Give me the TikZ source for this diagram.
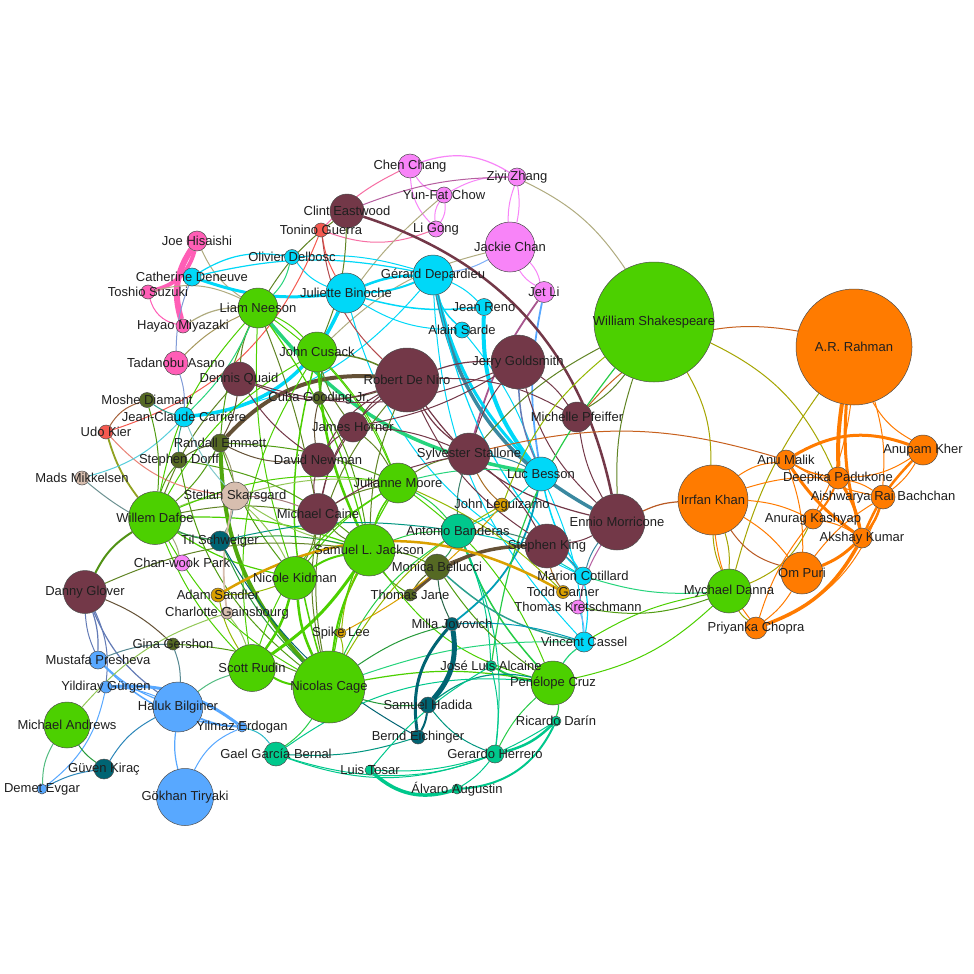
\documentclass[tikz,border=0pt]{standalone}
\usepackage{fontspec}
\setmainfont{Liberation Sans}
\usetikzlibrary{backgrounds}
\definecolor{cG}{RGB}{76,208,0}
\definecolor{cM}{RGB}{115,56,72}
\definecolor{cC}{RGB}{0,216,248}
\definecolor{cO}{RGB}{255,123,0}
\definecolor{cP}{RGB}{255,94,182}
\definecolor{cV}{RGB}{248,132,248}
\definecolor{cR}{RGB}{245,90,80}
\definecolor{cD}{RGB}{85,105,35}
\definecolor{cT}{RGB}{0,100,115}
\definecolor{cS}{RGB}{0,200,140}
\definecolor{cB}{RGB}{88,168,255}
\definecolor{cY}{RGB}{218,160,0}
\definecolor{cN}{RGB}{215,190,175}
\definecolor{ck}{RGB}{176,172,128}
\tikzset{
  nd/.style={circle,draw=black!70,line width=0.5pt,inner sep=0pt},
  lbl/.style={font=\fontsize{13}{15}\selectfont,text=black!88,inner sep=0pt},
}
\newcommand\vx[5]{\node[nd,fill=#4,minimum size=#3pt] (#1) at (#2) {};}
\newcommand\lab[2]{\node[lbl] (#1-t) at (#1) {#2};}
\newcommand\ed[5]{\draw[line width=#3pt,#4] (#1) to[bend left=#5] (#2);}
\begin{document}
\begin{tikzpicture}[x=1pt,y=-1pt]
\useasboundingbox (0,0) rectangle (974,974);
% nodes
\vx{cc}{410,166}{24}{cV}{}
\vx{zz}{517,177}{18}{cV}{}
\vx{yfc}{444,195}{16}{cV}{}
\vx{ce}{347,211}{34}{cM}{}
\vx{tgu}{321,230}{14}{cR}{}
\vx{lg}{436,229}{16}{cV}{}
\vx{jh}{197,241}{20}{cP}{}
\vx{jc}{510,247}{50}{cV}{}
\vx{od}{292,257}{15}{cC}{}
\vx{cd}{192,277}{18}{cC}{}
\vx{gd}{433,275}{40}{cC}{}
\vx{ts}{148,292}{14}{cP}{}
\vx{jb}{346,293}{40}{cC}{}
\vx{jl}{544,292}{21}{cV}{}
\vx{ln}{258,308}{40}{cG}{}
\vx{jr}{484,307}{17}{cC}{}
\vx{ws}{654,322}{120}{cG}{}
\vx{ar}{854,347}{116}{cO}{}
\vx{hm}{183,326}{14}{cP}{}
\vx{asa}{462,330}{16}{cC}{}
\vx{jcu}{317,352}{40}{cG}{}
\vx{ta}{176,363}{24}{cP}{}
\vx{jg}{518,362}{54}{cM}{}
\vx{rdn}{407,380}{64}{cM}{}
\vx{dq}{239,379}{34}{cM}{}
\vx{cg}{319,398}{13}{cD}{}
\vx{msd}{147,400}{15}{cD}{}
\vx{mp}{577,417}{30}{cM}{}
\vx{jcc}{184,417}{20}{cC}{}
\vx{jho}{353,427}{30}{cM}{}
\vx{udo}{106,432}{14}{cR}{}
\vx{re}{220,443}{18}{cD}{}
\vx{akh}{923,450}{30}{cO}{}
\vx{am}{786,460}{20}{cO}{}
\vx{dn}{318,460}{34}{cM}{}
\vx{ss}{469,454}{42}{cM}{}
\vx{sd}{179,460}{16}{cD}{}
\vx{dp}{838,478}{22}{cO}{}
\vx{lb}{541,474}{34}{cC}{}
\vx{mm}{82,478}{14}{cN}{}
\vx{jm}{398,483}{40}{cG}{}
\vx{ssk}{235,496}{28}{cN}{}
\vx{ik}{713,500}{70}{cO}{}
\vx{arb}{883,497}{24}{cO}{}
\vx{jlg}{502,505}{14}{cY}{}
\vx{wd}{155,518}{53}{cG}{}
\vx{mc}{318,514}{41}{cM}{}
\vx{em}{617,522}{56}{cM}{}
\vx{ab}{458,531}{34}{cS}{}
\vx{ak}{813,519}{20}{cO}{}
\vx{akk}{862,538}{20}{cO}{}
\vx{slj}{369,550}{52}{cG}{}
\vx{tsw}{220,541}{20}{cT}{}
\vx{sk}{547,546}{44}{cM}{}
\vx{mb}{437,567}{26}{cD}{}
\vx{cwp}{182,563}{16}{cV}{}
\vx{nk}{295,578}{43}{cG}{}
\vx{mco}{583,576}{18}{cC}{}
\vx{op}{802,573}{42}{cO}{}
\vx{dg}{85,592}{43}{cM}{}
\vx{md}{729,591}{44}{cG}{}
\vx{tg}{563,592}{13}{cY}{}
\vx{tj}{410,595}{12}{cD}{}
\vx{as}{218,595}{14}{cY}{}
\vx{tk}{578,607}{14}{cV}{}
\vx{cgb}{227,613}{12}{cN}{}
\vx{pch}{756,628}{22}{cO}{}
\vx{mj}{452,624}{13}{cT}{}
\vx{sl}{341,633}{10}{cY}{}
\vx{gg}{173,644}{12}{cD}{}
\vx{vc}{584,642}{20}{cC}{}
\vx{mps}{98,660}{18}{cB}{}
\vx{sr}{252,668}{47}{cG}{}
\vx{jla}{491,666}{11}{cS}{}
\vx{pc}{553,683}{44}{cG}{}
\vx{nc}{329,687}{72}{cG}{}
\vx{yg}{106,687}{12}{cB}{}
\vx{hb}{178,707}{50}{cB}{}
\vx{sh}{428,705}{16}{cT}{}
\vx{ma}{67,725}{46}{cG}{}
\vx{ye}{242,727}{10}{cB}{}
\vx{rd}{556,721}{10}{cS}{}
\vx{be}{418,737}{14}{cT}{}
\vx{gcb}{276,754}{24}{cS}{}
\vx{gh}{495,754}{18}{cS}{}
\vx{gk}{104,769}{20}{cT}{}
\vx{lt}{370,770}{10}{cS}{}
\vx{aa}{457,789}{10}{cS}{}
\vx{de}{42,789}{10}{cB}{}
\vx{gt}{185,797}{57}{cB}{}
% edges
\begin{pgfonlayer}{background}
\fill[white] (0,0) rectangle (974,974);
\ed{cc}{zz}{1.2}{cV}{25}
\ed{cc}{yfc}{1}{cV}{-20}
\ed{cc}{lg}{1}{cV}{-20}
\ed{yfc}{lg}{1}{cV}{20}
\ed{yfc}{lg}{1}{cV}{-20}
\ed{zz}{yfc}{1}{cV}{-15}
\ed{zz}{jc}{1}{cV}{10}
\ed{zz}{jc}{1}{cV}{-10}
\ed{jc}{jl}{1}{cV}{15}
\ed{jc}{jl}{1}{cV}{-15}
\ed{zz}{ce}{1}{cV!50!cM}{-10}
\ed{zz}{ws}{1}{ck}{15}
\ed{cc}{tgu}{1}{cV!50!cR}{-10}
\ed{lg}{tgu}{1}{cV!50!cR}{20}
\ed{yfc}{jcu}{1}{ck}{-10}
\ed{jc}{jcu}{1}{ck}{-15}
\ed{jc}{gd}{1}{cV!50!cC}{10}
\ed{jl}{ss}{1.8}{cV!40!cM}{-10}
\ed{jl}{lb}{1.8}{cB}{-10}
\ed{jh}{hm}{6}{cP}{-25}
\ed{jh}{ts}{4}{cP}{30}
\ed{ts}{hm}{1}{cP}{-30}
\ed{jh}{ln}{1}{ck}{-15}
\ed{ts}{ln}{1}{ck}{20}
\ed{hm}{ln}{1.2}{ck}{15}
\ed{cd}{ta}{1}{cC!50!cP}{-10}
\ed{cd}{jb}{3}{cC}{-12}
\ed{cd}{od}{1.2}{cC}{20}
\ed{cd}{gd}{1.2}{cC}{12}
\ed{od}{jb}{1}{cC}{-15}
\ed{od}{gd}{1}{cC}{10}
\ed{od}{ln}{1}{cG!50!cC}{15}
\ed{jcc}{jb}{3.5}{cC}{-30}
\ed{jcc}{gd}{1}{cC}{-20}
\ed{jb}{gd}{2.5}{cC}{10}
\ed{jb}{gd}{2}{cC}{-10}
\ed{jb}{asa}{1}{cC}{-15}
\ed{jb}{jr}{1.5}{cC}{-10}
\ed{gd}{jr}{1}{cC}{10}
\ed{gd}{asa}{1.5}{cC}{-15}
\ed{gd}{lb}{3}{cC}{-15}
\ed{jr}{lb}{4}{cC}{-20}
\ed{gd}{em}{3.5}{cC!50!cM}{-25}
\ed{gd}{vc}{1}{cC}{-20}
\ed{gd}{mco}{1.2}{cC}{-15}
\ed{jb}{mco}{1}{cC}{-25}
\ed{lb}{mco}{1.5}{cC}{-10}
\ed{lb}{vc}{1}{cC}{10}
\ed{mco}{vc}{1.2}{cC}{10}
\ed{tk}{vc}{1}{cV!50!cC}{10}
\ed{lb}{mj}{1.8}{cC!50!cT}{20}
\ed{asa}{lb}{1}{cC}{10}
\ed{ce}{ln}{1}{cM!50!cG}{-10}
\ed{ce}{em}{2.5}{cM}{30}
\ed{ce}{jcu}{1}{cM!50!cG}{10}
\ed{tgu}{jb}{1}{cR}{-10}
\ed{tgu}{rdn}{1}{cR!50!cM}{-20}
\ed{tgu}{udo}{1}{cR}{25}
\ed{ln}{lb}{3.5}{cG!50!cC}{-20}
\ed{rdn}{re}{4}{cM!50!cD}{-25}
\ed{re}{nc}{4}{cD!40!cG}{-20}
\ed{ln}{jcu}{1}{cG}{10}
\ed{ln}{dq}{1}{cG!50!cM}{-10}
\ed{ln}{nk}{1}{cG}{-10}
\ed{ln}{wd}{1}{cG}{-15}
\ed{ln}{slj}{1.2}{cG}{10}
\ed{ln}{re}{1}{cG!50!cD}{-10}
\ed{ln}{jm}{1}{cG}{15}
\ed{ln}{mc}{1}{cG!50!cM}{5}
\ed{jcu}{rdn}{1.5}{cG!50!cM}{10}
\ed{jcu}{slj}{2.5}{cG}{-10}
\ed{jcu}{nc}{1.5}{cG}{-15}
\ed{jcu}{jm}{1}{cG}{10}
\ed{jcu}{cg}{1}{cG!50!cD}{10}
\ed{jcu}{jho}{1}{cG!50!cM}{-10}
\ed{jcu}{sr}{1}{cG}{-20}
\ed{jcu}{wd}{1}{cG}{-15}
\ed{rdn}{jg}{1.2}{cM}{10}
\ed{rdn}{ss}{1.2}{cM}{-10}
\ed{rdn}{mp}{1}{cM}{15}
\ed{rdn}{jho}{1}{cM}{-10}
\ed{rdn}{dn}{1}{cM}{-15}
\ed{rdn}{mc}{1}{cM}{-20}
\ed{rdn}{dq}{1.2}{cM}{20}
\ed{rdn}{em}{1.2}{cM}{-20}
\ed{rdn}{cg}{1}{cM!50!cD}{10}
\ed{rdn}{slj}{1}{cG!50!cM}{-10}
\ed{rdn}{nc}{1}{cG!50!cM}{-25}
\ed{rdn}{sk}{1}{cM}{-15}
\ed{jg}{mp}{1}{cM}{10}
\ed{jg}{ss}{1}{cM}{-10}
\ed{jg}{dq}{1}{cM}{20}
\ed{jg}{lb}{1.5}{cM!40!cB}{-10}
\ed{jg}{jho}{1}{cM}{10}
\ed{jg}{em}{1}{cM}{-15}
\ed{mp}{ws}{1}{cM!50!cG}{-10}
\ed{mp}{em}{1}{cM}{-10}
\ed{mp}{ar}{1}{cM!40!cO}{30}
\ed{ss}{am}{1}{cM!40!cO}{15}
\ed{ws}{ik}{1}{cG!50!cO}{15}
\ed{ws}{dp}{1}{cG!50!cO}{20}
\ed{ar}{md}{1}{cG!50!cO}{-10}
\ed{ws}{jlg}{1}{cG!50!cY}{-15}
\ed{ws}{jla}{1.2}{cG!50!cS}{-15}
\ed{ws}{em}{1}{cG!50!cM}{-10}
\ed{ws}{ss}{1}{cG!50!cM}{-10}
\ed{ss}{lb}{1}{cM!50!cC}{10}
\ed{ss}{jho}{1}{cM}{-10}
\ed{ss}{sk}{1}{cM}{10}
\ed{ss}{jm}{1}{cM!50!cG}{-10}
\ed{ss}{ab}{1}{cM!50!cS}{-10}
\ed{jho}{mc}{1}{cM}{-10}
\ed{jho}{dn}{1}{cM}{-10}
\ed{jho}{jm}{1}{cM!50!cG}{10}
\ed{dq}{dn}{1}{cM}{-10}
\ed{dq}{re}{1}{cM!50!cD}{10}
\ed{dq}{wd}{1}{cM!50!cG}{-10}
\ed{em}{sk}{1}{cM}{10}
\ed{em}{ik}{1.2}{cM!50!cO}{10}
\ed{em}{tk}{1}{cM!50!cV}{-10}
\ed{em}{mco}{1}{cM!50!cC}{-10}
\ed{ik}{am}{1}{cO}{15}
\ed{ik}{op}{1}{cO}{10}
\ed{ik}{ak}{1}{cO}{10}
\ed{ik}{pch}{1}{cO}{-15}
\ed{ik}{md}{1}{cG!50!cO}{10}
\ed{ik}{md}{1}{cG!50!cO}{-10}
\ed{ik}{dp}{1}{cO}{10}
\ed{ik}{op}{1}{cM!50!cO}{-20}
\ed{md}{ak}{1}{cG!50!cO}{-20}
\ed{md}{pch}{1}{cG!50!cO}{-10}
\ed{md}{mco}{1}{cG!50!cC}{10}
\ed{md}{vc}{1}{cG}{-10}
\ed{md}{tk}{1}{cG!50!cD}{15}
\ed{md}{pc}{1}{cG}{15}
\ed{op}{pch}{1}{cO}{10}
\ed{op}{am}{1}{cO}{-10}
\ed{op}{akk}{3}{cO}{-10}
\ed{op}{arb}{1}{cO}{10}
\ed{pch}{akk}{3.5}{cO}{-20}
\ed{pch}{arb}{1}{cO}{-25}
\ed{pch}{ak}{1}{cO}{10}
\ed{dp}{akk}{3}{cO}{10}
\ed{am}{akk}{3}{cO}{-10}
\ed{dp}{am}{1.5}{cO}{10}
\ed{dp}{arb}{1}{cO}{10}
\ed{ar}{dp}{4}{cO}{-5}
\ed{ar}{akk}{3}{cO}{-10}
\ed{ar}{arb}{1}{cO}{10}
\ed{ar}{akh}{1}{cO}{-15}
\ed{ar}{ak}{1}{cO}{10}
\ed{akh}{akk}{2.5}{cO}{-10}
\ed{akh}{arb}{1}{cO}{10}
\ed{akh}{dp}{1}{cO}{15}
\ed{am}{akh}{3}{cO}{25}
\ed{am}{arb}{1}{cO}{-10}
\ed{ak}{akk}{1}{cO}{10}
\ed{ak}{dp}{2}{cO}{-10}
\ed{arb}{akk}{2.5}{cO}{10}
\ed{udo}{msd}{1}{cR!50!cD}{20}
\ed{udo}{ssk}{1}{cR!60!cN}{-20}
\ed{udo}{wd}{1.8}{cR!40!cG}{-10}
\ed{mm}{tsw}{1}{cN!50!cT}{-15}
\ed{mm}{jcc}{1}{cN!40!cC}{-15}
\ed{msd}{wd}{1}{cD!50!cG}{10}
\ed{msd}{jcc}{1}{cD!50!cC}{-10}
\ed{sd}{wd}{1}{cD!50!cG}{-10}
\ed{sd}{re}{1}{cD}{10}
\ed{sd}{nc}{1}{cD!50!cG}{-20}
\ed{sd}{slj}{1}{cD!50!cG}{15}
\ed{sd}{jcc}{1}{cD!50!cC}{10}
\ed{re}{wd}{1}{cD!50!cG}{10}
\ed{re}{nk}{1}{cD!50!cG}{-10}
\ed{re}{ssk}{1}{cD!50!cN}{10}
\ed{re}{dn}{1}{cD!50!cM}{-15}
\ed{re}{jm}{1}{cD!50!cG}{10}
\ed{cg}{slj}{1}{cD!50!cG}{10}
\ed{cg}{dn}{1}{cD!50!cM}{-10}
\ed{jcc}{ln}{1}{cC!50!cG}{-10}
\ed{jcc}{ssk}{1}{cC!40!cN}{-10}
\ed{ta}{jcc}{1}{cP!50!cC}{10}
\ed{ta}{ln}{1}{cP!50!cG}{10}
\ed{wd}{ssk}{1}{cG!50!cN}{10}
\ed{wd}{tsw}{1}{cG!50!cT}{-10}
\ed{wd}{cwp}{1}{cG!50!cV}{10}
\ed{wd}{dg}{2}{cD!60!cG}{-15}
\ed{wd}{slj}{1.2}{cG}{10}
\ed{wd}{nk}{1.2}{cG}{-10}
\ed{wd}{jm}{1}{cG}{15}
\ed{wd}{nc}{1}{cG}{-15}
\ed{wd}{sr}{1}{cG}{-10}
\ed{wd}{mc}{1}{cG!50!cM}{10}
\ed{ssk}{nk}{1}{cG!50!cN}{10}
\ed{ssk}{mc}{1}{cN!50!cM}{10}
\ed{ssk}{slj}{1}{cG!50!cN}{-10}
\ed{ssk}{tsw}{1}{cN!50!cT}{10}
\ed{ssk}{cgb}{1.8}{cN}{-10}
\ed{ssk}{jm}{1}{cG!50!cN}{10}
\ed{tsw}{nc}{1}{cG!50!cT}{-10}
\ed{tsw}{slj}{1}{cG!50!cT}{10}
\ed{tsw}{be}{1}{cT}{-15}
\ed{tsw}{ab}{1}{cT!50!cS}{10}
\ed{nk}{slj}{2}{cG}{10}
\ed{nk}{nc}{2.5}{cG}{-10}
\ed{nk}{sr}{2.5}{cG}{10}
\ed{nk}{jm}{1}{cG}{10}
\ed{nk}{mc}{1}{cG!50!cM}{-10}
\ed{nk}{as}{1}{cG!50!cY}{10}
\ed{slj}{nc}{2}{cG}{-10}
\ed{slj}{sr}{3}{cG}{10}
\ed{slj}{jm}{1.5}{cG}{10}
\ed{slj}{mc}{1}{cG!50!cM}{10}
\ed{slj}{ab}{1}{cG!50!cS}{10}
\ed{slj}{mb}{1}{cG!50!cD}{10}
\ed{slj}{sl}{1}{cG!50!cY}{-10}
\ed{slj}{tj}{1}{cG!50!cD}{-10}
\ed{slj}{pc}{1}{cG}{-20}
\ed{jm}{mc}{1}{cG!50!cM}{-10}
\ed{jm}{ab}{1}{cG!50!cS}{10}
\ed{jm}{nc}{1.2}{cG}{-10}
\ed{jm}{sr}{1}{cG}{-20}
\ed{jm}{pc}{1}{cG}{15}
\ed{jm}{lb}{1}{cG!50!cC}{10}
\ed{mc}{ss}{1}{cM}{10}
\ed{mc}{dn}{1}{cM}{10}
\ed{mc}{nc}{1}{cG!50!cM}{-10}
\ed{ab}{pc}{1.5}{cS!50!cG}{-10}
\ed{ab}{jla}{1}{cS}{10}
\ed{ab}{lb}{1}{cS!50!cC}{-10}
\ed{ab}{mb}{1}{cS!50!cD}{10}
\ed{ab}{sk}{1}{cS!50!cM}{10}
\ed{ab}{nc}{1}{cS!50!cG}{-15}
\ed{ab}{mco}{1}{cS!50!cC}{10}
\ed{ab}{gh}{1}{cS}{15}
\ed{mb}{tj}{1}{cD}{-10}
\ed{mb}{vc}{1.5}{cD!50!cC}{-15}
\ed{mb}{sk}{1}{cD!50!cM}{10}
\ed{mb}{mj}{1}{cD!50!cT}{-10}
\ed{mb}{pc}{1}{cD!50!cG}{-10}
\ed{sk}{mco}{1}{cM!50!cC}{10}
\ed{sk}{tg}{1}{cM!50!cY}{-10}
\ed{tj}{sk}{3.5}{cM!50!cD}{20}
\ed{as}{tg}{2.5}{cY}{30}
\ed{jlg}{ss}{1}{cY!50!cM}{10}
\ed{jlg}{sl}{1}{cY}{10}
\ed{jlg}{nc}{1}{cY!50!cG}{-15}
\ed{tg}{jm}{1}{cY!50!cG}{-10}
\ed{sl}{nc}{1}{cY!50!cG}{10}
\ed{pc}{nc}{1.2}{cG}{-10}
\ed{pc}{vc}{1.2}{cG!50!cC}{10}
\ed{pc}{rd}{1.2}{cS!50!cG}{10}
\ed{pc}{gh}{1}{cS!50!cG}{-10}
\ed{jla}{pc}{2}{cS!50!cG}{-10}
\ed{sh}{pc}{1.2}{cT!50!cS}{25}
\ed{pc}{gcb}{1}{cS}{-20}
\ed{nc}{sr}{2}{cG}{10}
\ed{nc}{gcb}{1}{cG!50!cS}{10}
\ed{nc}{sh}{1}{cG!50!cT}{-10}
\ed{nc}{gg}{1}{cG!50!cD}{-10}
\ed{nc}{vc}{1}{cG!50!cC}{10}
\ed{nc}{mj}{1}{cG!50!cT}{10}
\ed{sr}{cgb}{1}{cG!50!cN}{-10}
\ed{sr}{hb}{1}{cG!50!cB}{-10}
\ed{sr}{as}{1}{cG!50!cY}{10}
\ed{gcb}{ye}{1}{cS!50!cB}{-20}
\ed{gcb}{gh}{1}{cS}{-20}
\ed{gcb}{rd}{1}{cS}{-25}
\ed{be}{gcb}{1}{cT!50!cS}{10}
\ed{sh}{gh}{1}{cT!50!cS}{-15}
\ed{sh}{be}{2}{cT}{10}
\ed{mj}{sh}{5}{cT}{25}
\ed{be}{mj}{3}{cT}{25}
\ed{jla}{gh}{1}{cS}{10}
\ed{jla}{lt}{1}{cS}{-10}
\ed{gh}{lt}{1}{cS}{10}
\ed{gh}{aa}{1}{cS}{10}
\ed{gh}{rd}{2.5}{cS}{-15}
\ed{lt}{aa}{3.5}{cS}{-30}
\ed{aa}{rd}{2}{cS}{-30}
\ed{mj}{vc}{1}{cT!50!cC}{10}
\ed{dg}{mps}{1.2}{cM!40!cB}{10}
\ed{dg}{mps}{1}{cM!40!cB}{-10}
\ed{dg}{yg}{1}{cM!40!cB}{15}
\ed{dg}{hb}{1.2}{cM!40!cB}{-15}
\ed{dg}{gg}{1}{cM!50!cD}{10}
\ed{dg}{slj}{1}{cM!50!cG}{15}
\ed{mps}{hb}{1.2}{cB}{-10}
\ed{mps}{ye}{1.5}{cB}{-20}
\ed{mps}{gg}{1}{cB!50!cD}{10}
\ed{yg}{ye}{3}{cB}{20}
\ed{yg}{de}{1}{cB}{20}
\ed{yg}{hb}{1}{cB}{10}
\ed{hb}{ye}{2}{cB}{-10}
\ed{hb}{gk}{1}{cB!50!cT}{-15}
\ed{hb}{gt}{1.2}{cB}{-10}
\ed{hb}{gg}{1}{cB!50!cD}{-10}
\ed{ma}{de}{1}{cG!50!cB}{-15}
\ed{ma}{gk}{1}{cG!50!cT}{-10}
\ed{ma}{cgb}{1}{cG!50!cN}{15}
\ed{gk}{de}{1}{cB!50!cT}{-10}
\ed{ye}{gt}{1}{cB}{-20}
\end{pgfonlayer}
% labels
\lab{cc}{Chen Chang}
\lab{zz}{Ziyi Zhang}
\lab{yfc}{Yun-Fat Chow}
\lab{ce}{Clint Eastwood}
\lab{tgu}{Tonino Guerra}
\lab{lg}{Li Gong}
\lab{jh}{Joe Hisaishi}
\lab{jc}{Jackie Chan}
\lab{od}{Olivier Delbosc}
\lab{cd}{Catherine Deneuve}
\lab{gd}{Gérard Depardieu}
\lab{ts}{Toshio Suzuki}
\lab{jb}{Juliette Binoche}
\lab{jl}{Jet Li}
\lab{ln}{Liam Neeson}
\lab{jr}{Jean Reno}
\lab{ws}{William Shakespeare}
\lab{ar}{A.R. Rahman}
\lab{hm}{Hayao Miyazaki}
\lab{asa}{Alain Sarde}
\lab{jcu}{John Cusack}
\lab{ta}{Tadanobu Asano}
\lab{jg}{Jerry Goldsmith}
\lab{rdn}{Robert De Niro}
\lab{dq}{Dennis Quaid}
\lab{cg}{Cuba Gooding Jr.}
\lab{msd}{Moshe Diamant}
\lab{mp}{Michelle Pfeiffer}
\lab{jcc}{Jean-Claude Carrière}
\lab{jho}{James Horner}
\lab{udo}{Udo Kier}
\lab{re}{Randall Emmett}
\lab{akh}{Anupam Kher}
\lab{am}{Anu Malik}
\lab{dn}{David Newman}
\lab{ss}{Sylvester Stallone}
\lab{sd}{Stephen Dorff}
\lab{dp}{Deepika Padukone}
\lab{lb}{Luc Besson}
\lab{mm}{Mads Mikkelsen}
\lab{jm}{Julianne Moore}
\lab{ssk}{Stellan Skarsgard}
\lab{ik}{Irrfan Khan}
\lab{arb}{Aishwarya Rai Bachchan}
\lab{jlg}{John Leguizamo}
\lab{wd}{Willem Dafoe}
\lab{mc}{Michael Caine}
\lab{em}{Ennio Morricone}
\lab{ab}{Antonio Banderas}
\lab{ak}{Anurag Kashyap}
\lab{akk}{Akshay Kumar}
\lab{slj}{Samuel L. Jackson}
\lab{tsw}{Til Schweiger}
\lab{sk}{Stephen King}
\lab{mb}{Monica Bellucci}
\lab{cwp}{Chan-wook Park}
\lab{nk}{Nicole Kidman}
\lab{mco}{Marion Cotillard}
\lab{op}{Om Puri}
\lab{dg}{Danny Glover}
\lab{md}{Mychael Danna}
\lab{tg}{Todd Garner}
\lab{tj}{Thomas Jane}
\lab{as}{Adam Sandler}
\lab{tk}{Thomas Kretschmann}
\lab{cgb}{Charlotte Gainsbourg}
\lab{pch}{Priyanka Chopra}
\lab{mj}{Milla Jovovich}
\lab{sl}{Spike Lee}
\lab{gg}{Gina Gershon}
\lab{vc}{Vincent Cassel}
\lab{mps}{Mustafa Presheva}
\lab{sr}{Scott Rudin}
\lab{jla}{José Luis Alcaine}
\lab{pc}{Penélope Cruz}
\lab{nc}{Nicolas Cage}
\lab{yg}{Yildiray Gürgen}
\lab{hb}{Haluk Bilginer}
\lab{sh}{Samuel Hadida}
\lab{ma}{Michael Andrews}
\lab{ye}{Yilmaz Erdogan}
\lab{rd}{Ricardo Darín}
\lab{be}{Bernd Eichinger}
\lab{gcb}{Gael García Bernal}
\lab{gh}{Gerardo Herrero}
\lab{gk}{Güven Kiraç}
\lab{lt}{Luis Tosar}
\lab{aa}{Álvaro Augustin}
\lab{de}{Demet Evgar}
\lab{gt}{Gökhan Tiryaki}
\end{tikzpicture}
\end{document}
